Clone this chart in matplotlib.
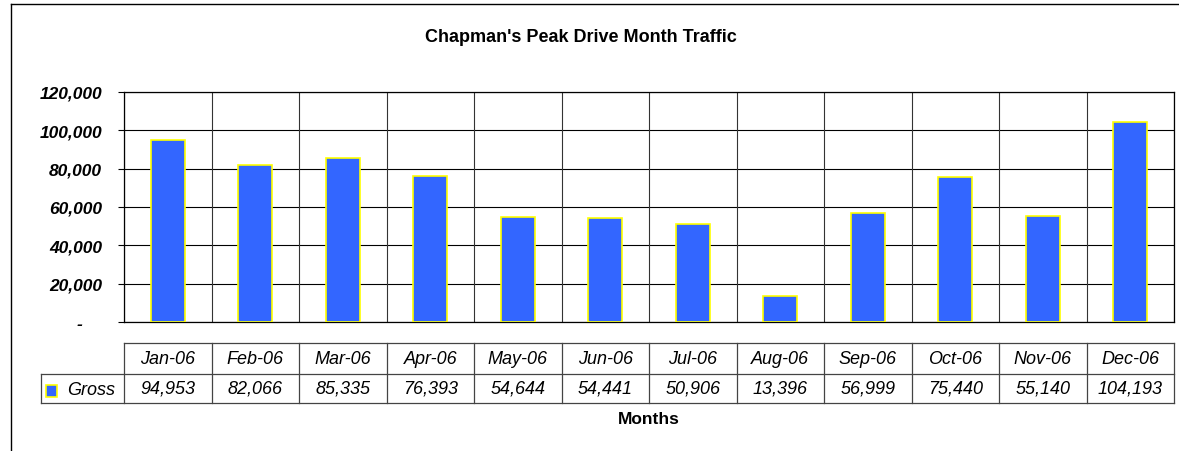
import numpy as np
import matplotlib.pyplot as plt
from matplotlib.lines import Line2D
from matplotlib.patches import Rectangle
import matplotlib.transforms as mtransforms

plt.rcParams['font.family'] = ['Liberation Sans', 'DejaVu Sans']

# -----------------------------------------------------------------------------
# Data
# -----------------------------------------------------------------------------
months = ["Jan-06", "Feb-06", "Mar-06", "Apr-06", "May-06", "Jun-06",
          "Jul-06", "Aug-06", "Sep-06", "Oct-06", "Nov-06", "Dec-06"]
gross = [94953, 82066, 85335, 76393, 54644, 54441,
         50906, 13396, 56999, 75440, 55140, 104193]
series_name = "Gross"
y_ticks = [0, 20000, 40000, 60000, 80000, 100000, 120000]

W, H = 1179, 452
fig = plt.figure(figsize=(W / 100, H / 100), dpi=100)

# Outer chart frame (top and left edges visible)
fig.add_artist(Line2D([10.5 / W, 10.5 / W], [0, 1 - 5 / H], transform=fig.transFigure,
                      color="black", lw=1.0))
fig.add_artist(Line2D([10.5 / W, 1], [1 - 5 / H, 1 - 5 / H], transform=fig.transFigure,
                      color="black", lw=1.0))

# Plot area
left, right, top, bottom = 124, 1174, 93, 323
ax = fig.add_axes([left / W, 1 - bottom / H, (right - left) / W, (bottom - top) / H])

x = np.arange(len(months))
ax.bar(x, gross, width=0.39, color="#3366FF", edgecolor="#FFFF00", linewidth=1.2, zorder=3)

ax.set_xlim(-0.5, len(months) - 0.5)
ax.set_ylim(0, 120000)
ax.set_yticks(y_ticks)
ax.set_yticklabels(["-    "] + ["{:,}".format(v) for v in y_ticks[1:]],
                   fontsize=12.5, fontweight="bold", fontstyle="italic")
ax.tick_params(axis="y", length=4.3, width=0.8, pad=11.5)
ax.set_xticks([])

# Gridlines: horizontal at y ticks, vertical at category boundaries
for v in y_ticks:
    ax.axhline(v, color="black", lw=0.8, zorder=1)
for b in np.arange(-0.5, len(months), 1.0):
    ax.axvline(b, color="#333333", lw=0.8, zorder=1)

for s in ax.spines.values():
    s.set_color("black")
    s.set_linewidth(0.9)

# -----------------------------------------------------------------------------
# Data table below the plot
# -----------------------------------------------------------------------------
trans = mtransforms.blended_transform_factory(ax.transData, ax.transAxes)
ph = bottom - top
r0 = (bottom - 344) / ph
r1 = (bottom - 375) / ph
r2 = (bottom - 404) / ph
xl = -0.5 - (left - 41) / ((right - left) / len(months))
xr = len(months) - 0.5
lc = "#444444"

def hline(x0, x1, y):
    ax.add_line(Line2D([x0, x1], [y, y], transform=trans, color=lc, lw=0.9, clip_on=False))

def vline(xv, y0, y1):
    ax.add_line(Line2D([xv, xv], [y0, y1], transform=trans, color=lc, lw=0.9, clip_on=False))

hline(-0.5, xr, r0)
hline(xl, xr, r1)
hline(xl, xr, r2)
vline(xl, r1, r2)
for b in np.arange(-0.5, len(months), 1.0):
    vline(b, r0, r2)

for i, (m, g) in enumerate(zip(months, gross)):
    ax.text(i, (r0 + r1) / 2, m, transform=trans, ha="center", va="center",
            fontsize=13, fontstyle="italic", clip_on=False)
    ax.text(i, (r1 + r2) / 2, "{:,}".format(g), transform=trans, ha="center", va="center",
            fontsize=13, fontstyle="italic", clip_on=False)

# Legend key in the table
fig.add_artist(Rectangle((45.5 / W, 1 - 397.5 / H), 11.5 / W, 11.5 / H, transform=fig.transFigure,
                         facecolor="#3366FF", edgecolor="#FFFF00", lw=1.2))
fig.text(67 / W, 1 - 391 / H, series_name, ha="left", va="center",
         fontsize=13, fontstyle="italic")

# Titles
fig.text(581 / W, 1 - 38 / H, "Chapman's Peak Drive Month Traffic",
         ha="center", va="center", fontsize=13, fontweight="bold")
fig.text(0.5 * (left + right) / W, 1 - 420 / H, "Months",
         ha="center", va="center", fontsize=12.5, fontweight="bold")

fig.savefig("out.png", dpi=100)
